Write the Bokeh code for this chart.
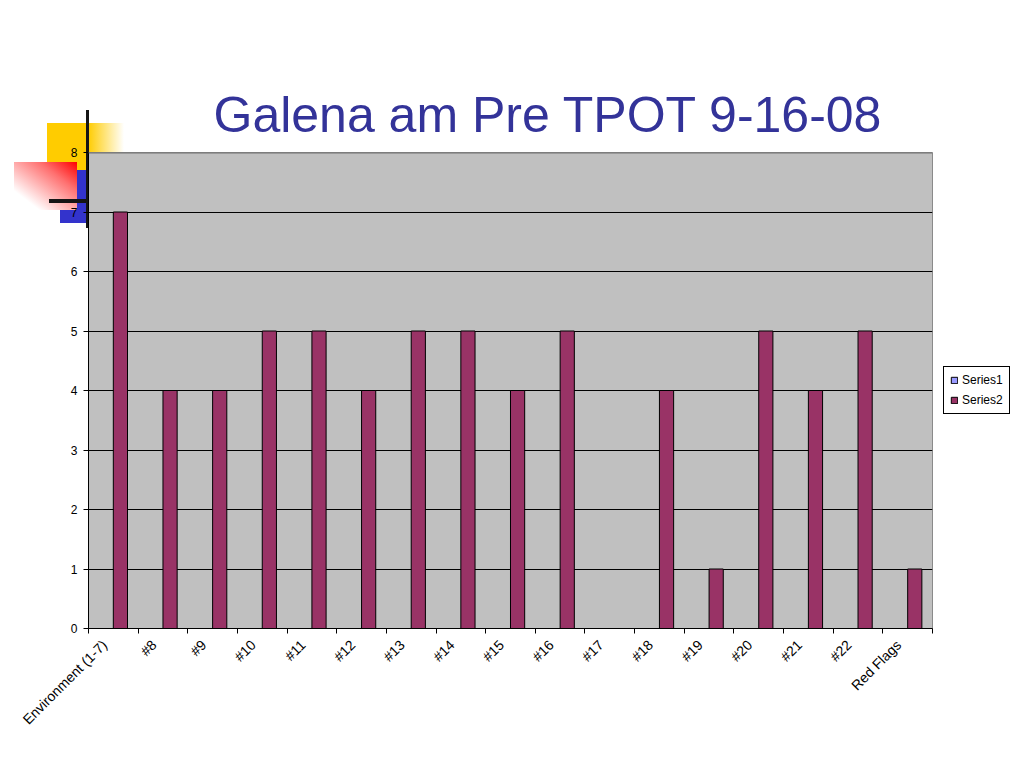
import math
from bokeh.plotting import figure
from bokeh.models import (Range1d, FixedTicker, Legend, LegendItem, Span,
                          ColumnDataSource, Styles)
from bokeh.transform import dodge
from bokeh.embed import file_html
from bokeh.resources import INLINE

# ---------------- data ----------------
categories = ["Environment (1-7)", "#8", "#9", "#10", "#11", "#12", "#13", "#14",
              "#15", "#16", "#17", "#18", "#19", "#20", "#21", "#22", "Red Flags"]
series1 = [0, 0, 0, 0, 0, 0, 0, 0, 0, 0, 0, 0, 0, 0, 0, 0, 0]
series2 = [7, 4, 4, 5, 5, 4, 5, 5, 4, 5, 0, 4, 1, 5, 4, 5, 1]
y_ticks = [0, 1, 2, 3, 4, 5, 6, 7, 8]
title_text = "Galena am Pre TPOT 9-16-08"

n = len(categories)
xpos = list(range(n))
src = ColumnDataSource(dict(x=xpos, cat=categories, s1=series1, s2=series2))

FL, FR, FT, FB = 88, 932, 152, 628
FONT = "Liberation Sans"

# template ornament (upper-left), painted as CSS background layers behind the
# transparent border area of the figure: (image, left, top, width, height)
ornament = [
    ("linear-gradient(#151515,#151515)", 86, 110, 3, 118),
    ("linear-gradient(#151515,#151515)", 49, 199, 37, 4),
    ("linear-gradient(to bottom left, #FF0000 0%, #FF7070 30%, #FFFFFF 80%)", 14, 162, 63, 48),
    ("linear-gradient(#3333CC,#3333CC)", 60, 170, 28, 53),
    ("linear-gradient(to right, #FFCC00, rgba(255,204,0,0))", 88, 123, 36, 29),
    ("linear-gradient(#FFCC00,#FFCC00)", 47, 123, 41, 67),
]
deco = Styles(
    background_image=", ".join(o[0] for o in ornament),
    background_position=", ".join(f"{o[1]}px {o[2]}px" for o in ornament),
    background_size=", ".join(f"{o[3]}px {o[4]}px" for o in ornament),
    background_repeat=", ".join("no-repeat" for _ in ornament),
)

p = figure(frame_width=FR - FL, frame_height=FB - FT,
           x_range=Range1d(-0.5, n - 0.5), y_range=Range1d(0, 8),
           output_backend="svg", toolbar_location=None,
           min_border_left=FL, min_border_right=86,
           min_border_top=FT, min_border_bottom=120,
           background_fill_color="#C0C0C0", border_fill_alpha=0,
           outline_line_color="#8a8a8a", outline_line_width=1,
           styles=deco)

# ---------------- title ----------------
p.title.text = title_text
p.title.align = "left"
p.title.offset = 213 - FL
p.title.standoff = 19
p.title.text_font = FONT
p.title.text_font_size = "50px"
p.title.text_font_style = "normal"
p.title.text_color = "#333399"

# ---------------- axes ----------------
# category labels sit slightly left of each category centre, as in the source
label_shift = 0.18
label_pos = [i - label_shift for i in xpos]
xa = p.xaxis[0]
xa.ticker = FixedTicker(ticks=label_pos, minor_ticks=[i - 0.5 for i in range(n + 1)])
xa.major_label_overrides = {lp: c for lp, c in zip(label_pos, categories)}
xa.major_tick_line_color = None
xa.minor_tick_line_color = "black"
xa.minor_tick_out = 5
xa.minor_tick_in = 0
xa.major_label_orientation = math.pi / 4
xa.major_label_standoff = 8
xa.major_label_text_font = FONT
xa.major_label_text_font_size = "14px"
xa.major_label_text_color = "black"
xa.axis_line_color = "black"

ya = p.yaxis[0]
ya.ticker = FixedTicker(ticks=y_ticks)
ya.major_tick_out = 5
ya.major_tick_in = 0
ya.minor_tick_line_color = None
ya.major_tick_line_color = "black"
ya.axis_line_color = "black"
ya.major_label_standoff = 6
ya.major_label_text_font = FONT
ya.major_label_text_font_size = "12px"
ya.major_label_text_color = "black"

p.xgrid.visible = False
p.ygrid.ticker = FixedTicker(ticks=y_ticks[1:-1])
p.ygrid.grid_line_color = "black"
p.ygrid.grid_line_width = 1

p.add_layout(Span(location=8, dimension="width", line_color="#707070", line_width=2))

# ---------------- bars ----------------
bw = 1 / 3.5
r1 = p.vbar(x=dodge("x", -bw / 2), top="s1", width=bw, source=src,
            fill_color="#9999FF", line_color="black", line_width=1)
r2 = p.vbar(x=dodge("x", bw / 2), top="s2", width=bw, source=src,
            fill_color="#993366", line_color="black", line_width=1)

legend = Legend(items=[LegendItem(label="Series1", renderers=[r1]),
                       LegendItem(label="Series2", renderers=[r2])],
                location="center_left", orientation="vertical",
                border_line_color="black", border_line_width=1,
                border_line_alpha=1,
                background_fill_color="white", background_fill_alpha=1,
                label_text_font=FONT, label_text_font_size="12px",
                label_text_color="black",
                glyph_width=8, glyph_height=8, label_standoff=4,
                label_height=14, padding=6, spacing=6, margin=11)
p.add_layout(legend, "right")

open("out.html", "w").write(file_html(p, INLINE))
